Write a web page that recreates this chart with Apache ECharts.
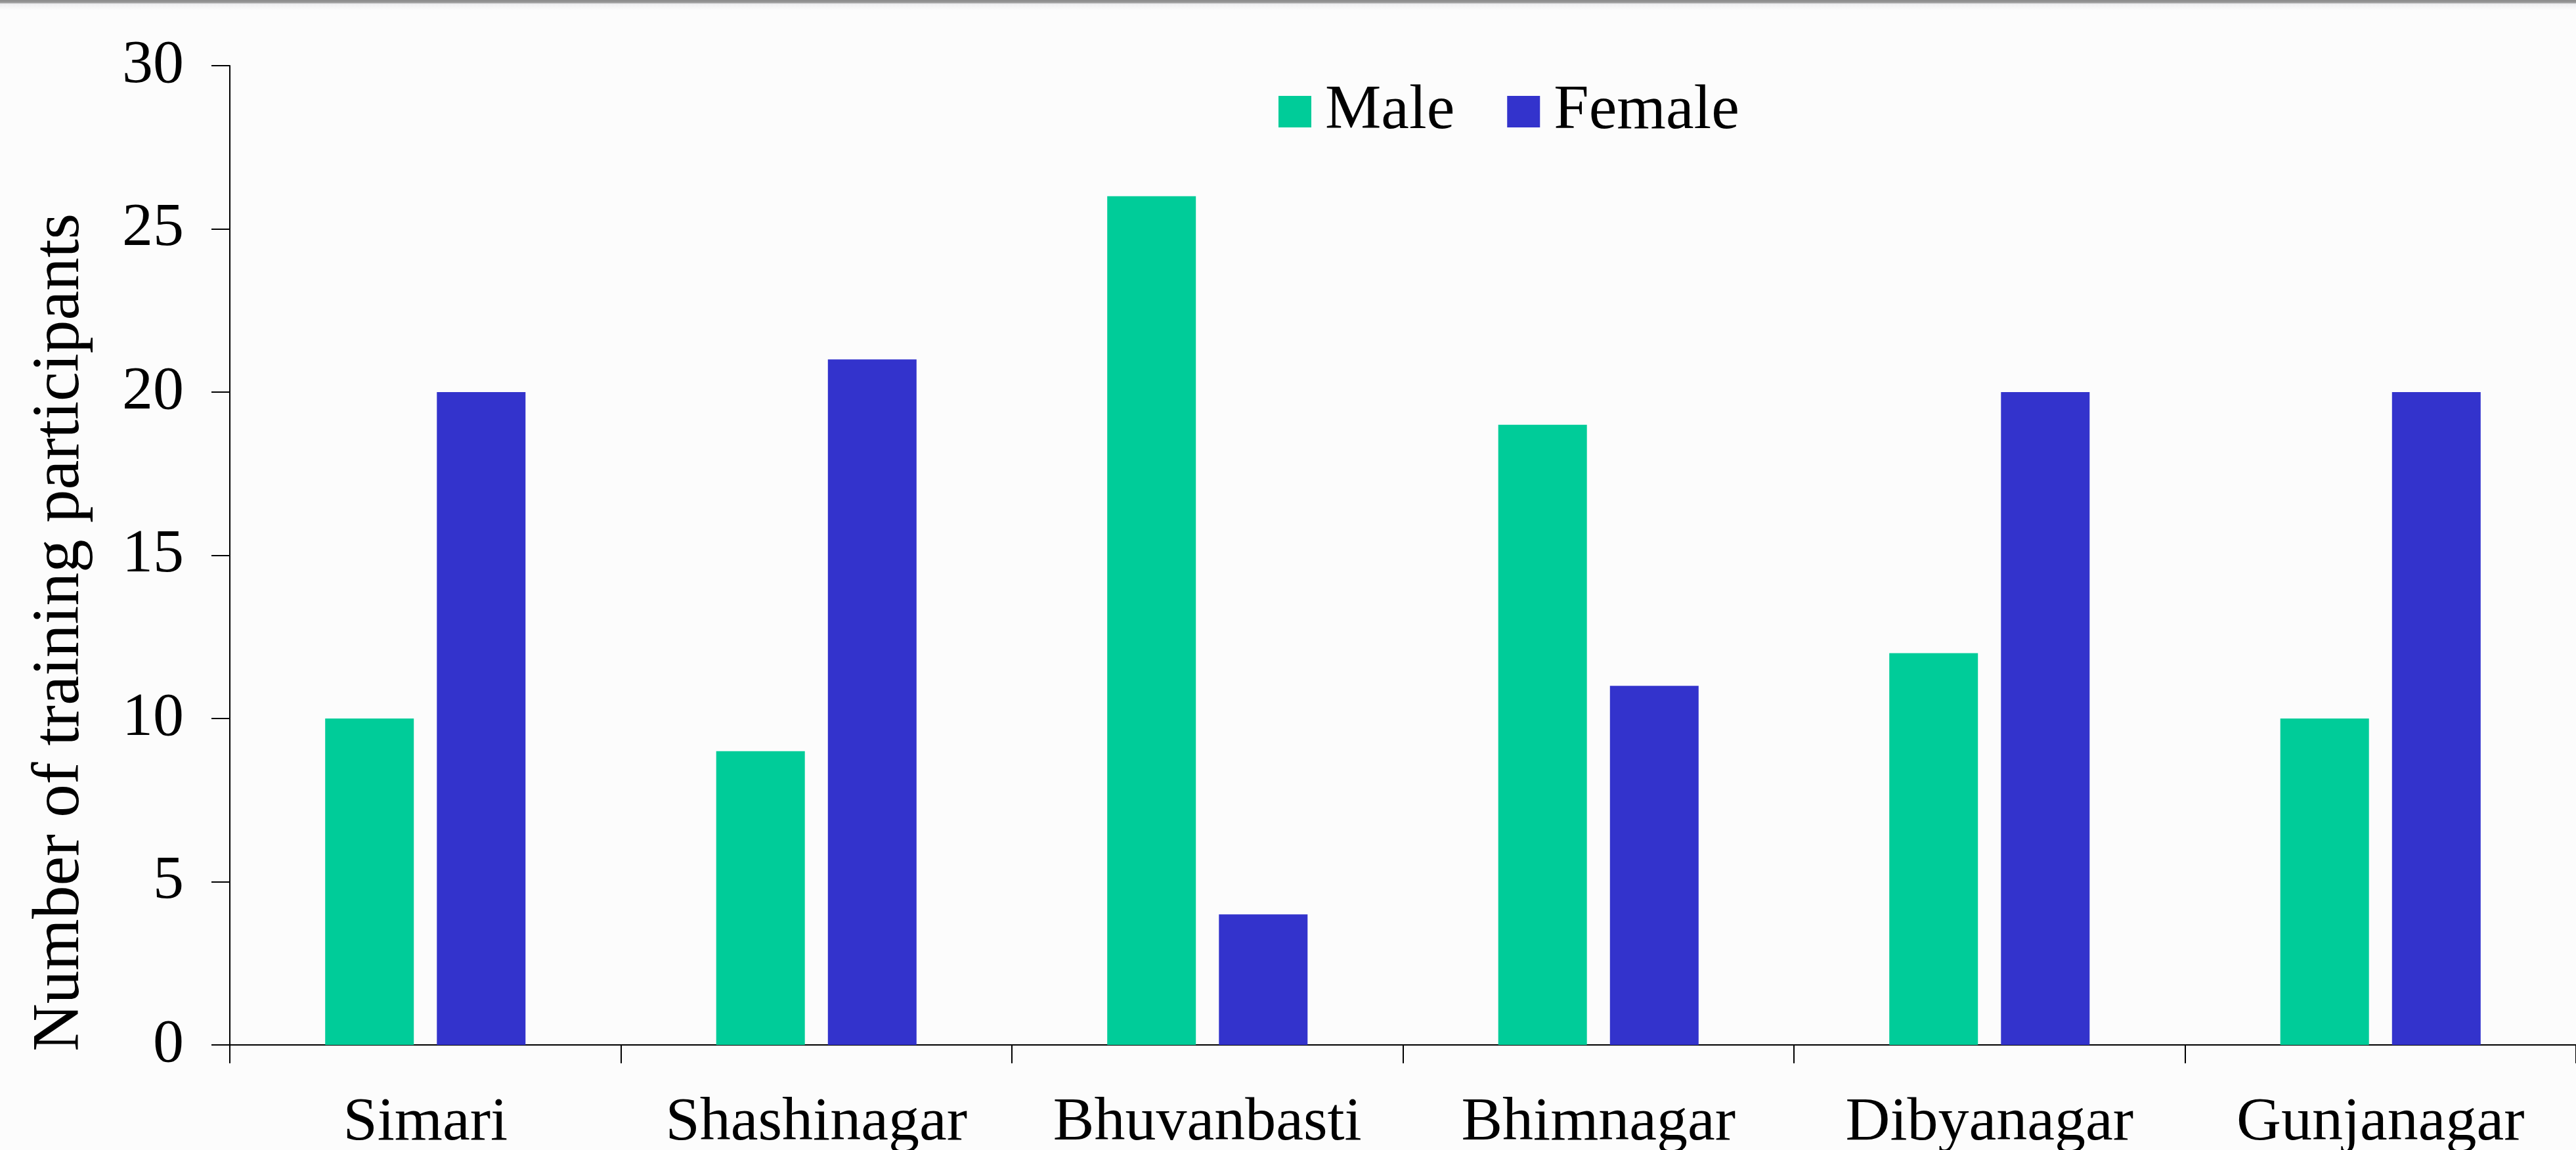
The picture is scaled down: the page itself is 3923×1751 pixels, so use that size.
<!DOCTYPE html>
<html>
<head>
<meta charset="utf-8">
<script src="https://cdn.jsdelivr.net/npm/echarts@6/dist/echarts.min.js"></script>
<style>
  html, body { margin: 0; padding: 0; background: #fcfcfc; }
  #chart { width: 3923px; height: 1751px; }
  #topline { position: absolute; left: 0; top: 0; width: 3923px; height: 16px;
    background: linear-gradient(#8a8a8a 0px, #9a9a9a 4px, #eeeef0 6px, #fcfcfc 16px); }
</style>
</head>
<body>
<div id="chart"></div>
<div id="topline"></div>
<script>
// Datos del gráfico
const villages = ['Simari', 'Shashinagar', 'Bhuvanbasti', 'Bhimnagar', 'Dibyanagar', 'Gunjanagar'];
const maleValues = [10, 9, 26, 19, 12, 10];
const femaleValues = [20, 21, 4, 11, 20, 20];
const yTicks = [0, 5, 10, 15, 20, 25, 30];

const fuente = "'Liberation Serif', 'Times New Roman', serif";
const tam = 94;

const chart = echarts.init(document.getElementById('chart'));

chart.setOption({
    backgroundColor: '#fcfcfc',
    animation: false,
    grid: { left: 350, right: 0, top: 100, bottom: 160, containLabel: false, outerBoundsMode: 'none' },
    legend: {
        left: 1942,
        top: 117,
        icon: 'rect',
        itemWidth: 50,
        itemHeight: 48,
        itemGap: 80,
        textStyle: { fontFamily: fuente, fontSize: 96, color: '#000', padding: [0, 0, 0, 16] },
        data: ['Male', 'Female']
    },
    // Título del eje Y, girado
    graphic: [{
        type: 'text',
        x: 92,
        y: 963,
        rotation: Math.PI / 2,
        style: {
            text: 'Number of training participants',
            font: '101px ' + fuente,
            fill: '#000',
            textAlign: 'center',
            textVerticalAlign: 'middle'
        }
    }],
    xAxis: {
        type: 'category',
        data: villages,
        axisLine: { lineStyle: { color: '#000', width: 2 } },
        axisTick: { show: true, length: 28, alignWithLabel: false, lineStyle: { color: '#000', width: 2 } },
        axisLabel: { fontFamily: fuente, fontSize: tam, color: '#000', margin: 72, interval: 0 }
    },
    yAxis: {
        type: 'value',
        min: yTicks[0],
        max: yTicks[yTicks.length - 1],
        interval: 5,
        axisLine: { show: true, lineStyle: { color: '#000', width: 2 } },
        axisTick: { show: true, length: 28, lineStyle: { color: '#000', width: 2 } },
        axisLabel: { fontFamily: fuente, fontSize: tam, color: '#000', margin: 70 },
        splitLine: { show: false }
    },
    series: [
        {
            name: 'Male',
            type: 'bar',
            data: maleValues,
            barWidth: 135,
            barGap: '26%',
            itemStyle: { color: '#00cc99' }
        },
        {
            name: 'Female',
            type: 'bar',
            data: femaleValues,
            barWidth: 135,
            barGap: '26%',
            itemStyle: { color: '#3333cc' }
        }
    ]
});
</script>
</body>
</html>
